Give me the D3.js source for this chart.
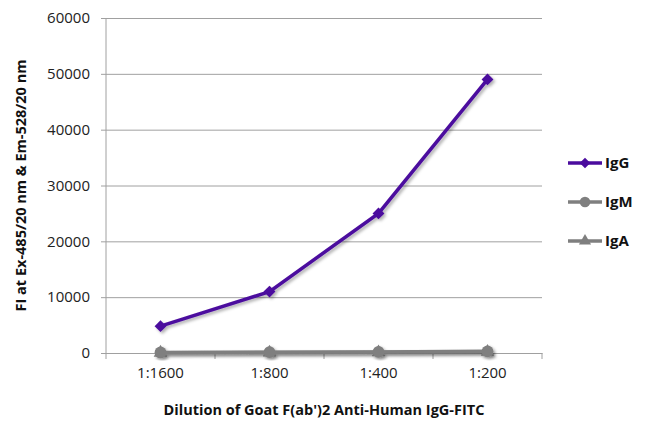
<!DOCTYPE html>
<html>
<head>
<meta charset="utf-8">
<script src="https://cdn.jsdelivr.net/npm/d3@7"></script>
<style>
  html, body { margin: 0; padding: 0; background: #fff; overflow: hidden; }
  svg { display: block; }
  svg text { font-family: 'Open Sans', sans-serif; }
  .tick text { font-size: 15px; fill: #222; }
  .axis-title { font-size: 14.5px; font-weight: bold; fill: #111; }
  .legend text { font-size: 15px; font-weight: bold; fill: #111; }
</style>
</head>
<body>
<svg width="650" height="432"></svg>
<script>
const dilutions = ['1:1600', '1:800', '1:400', '1:200'];
const igG = [4800, 11000, 25000, 49000];
const igM = [100, 150, 200, 300];
const igA = [50, 80, 120, 200];
const yTicks = [0, 10000, 20000, 30000, 40000, 50000, 60000];

const series = [
    { name: 'IgG', values: igG, color: '#4b0c9e', shape: d3.symbolSquare, size: 70, rot: 45 },
    { name: 'IgM', values: igM, color: '#7f7f7f', shape: d3.symbolCircle, size: 110, rot: 0 },
    { name: 'IgA', values: igA, color: '#7f7f7f', shape: d3.symbolTriangle, size: 80, rot: 0 }
];

const svg = d3.select('svg');
const margin = { top: 18, right: 108, bottom: 79, left: 106 };
const width = +svg.attr('width');
const height = +svg.attr('height');
const innerWidth = width - margin.left - margin.right;
const innerHeight = height - margin.top - margin.bottom;

const defs = svg.append('defs');
const shadow = defs.append('filter').attr('id', 'shadow')
    .attr('x', '-20%').attr('y', '-20%').attr('width', '140%').attr('height', '140%');
shadow.append('feDropShadow')
    .attr('dx', 2).attr('dy', 2).attr('stdDeviation', 1.5)
    .attr('flood-color', '#000').attr('flood-opacity', 0.3);

const g = svg.append('g')
    .attr('transform', `translate(${margin.left},${margin.top})`);

const xScale = d3.scaleBand()
    .domain(dilutions)
    .range([0, innerWidth]);

const yScale = d3.scaleLinear()
    .domain([0, 60000])
    .range([innerHeight, 0]);

// gridlines + y axis
const yAxis = d3.axisLeft(yScale)
    .tickValues(yTicks)
    .tickFormat(d3.format('d'))
    .tickSize(-innerWidth)
    .tickPadding(16);
const yAxisG = g.append('g').call(yAxis);
yAxisG.select('.domain').remove();
yAxisG.selectAll('.tick line').attr('stroke', '#a0a0a0').attr('x1', -5);

g.append('line')
    .attr('x1', 0).attr('x2', 0)
    .attr('y1', 0).attr('y2', innerHeight)
    .attr('stroke', '#a0a0a0');

// x axis with tick marks at category boundaries
const xAxisG = g.append('g')
    .attr('transform', `translate(0,${innerHeight})`)
    .call(d3.axisBottom(xScale).tickSize(0).tickPadding(14));
xAxisG.select('.domain').attr('stroke', '#a0a0a0');
xAxisG.selectAll('.boundary')
    .data(d3.range(dilutions.length + 1))
    .enter().append('line')
    .attr('x1', i => i * xScale.bandwidth())
    .attr('x2', i => i * xScale.bandwidth())
    .attr('y1', 0).attr('y2', 6)
    .attr('stroke', '#a0a0a0');

const xPos = d => xScale(d) + xScale.bandwidth() / 2;

const line = d3.line()
    .x((v, i) => xPos(dilutions[i]))
    .y(v => yScale(v));

// draw IgA, IgM first, then IgG on top
series.slice().reverse().forEach(s => {
    const sg = g.append('g').attr('filter', 'url(#shadow)');
    sg.append('path')
        .datum(s.values)
        .attr('fill', 'none')
        .attr('stroke', s.color)
        .attr('stroke-width', 3.5)
        .attr('d', line);
    sg.selectAll('path.marker')
        .data(s.values)
        .enter().append('path')
        .attr('class', 'marker')
        .attr('d', d3.symbol().type(s.shape).size(s.size))
        .attr('fill', s.color)
        .attr('transform', (v, i) => `translate(${xPos(dilutions[i])},${yScale(v)}) rotate(${s.rot})`);
});

// axis titles
g.append('text')
    .attr('class', 'axis-title')
    .attr('text-anchor', 'middle')
    .attr('x', innerWidth / 2)
    .attr('y', innerHeight + 62)
    .text("Dilution of Goat F(ab')2 Anti-Human IgG-FITC");

g.append('text')
    .attr('class', 'axis-title')
    .attr('text-anchor', 'middle')
    .attr('transform', `translate(${-80},${innerHeight / 2}) rotate(-90)`)
    .text('FI at Ex-485/20 nm & Em-528/20 nm');

// legend
const legend = svg.append('g').attr('class', 'legend')
    .attr('transform', 'translate(568,163)');
const item = legend.selectAll('g')
    .data(series)
    .enter().append('g')
    .attr('transform', (d, i) => `translate(0,${i * 39})`);
item.append('line')
    .attr('x1', 0).attr('x2', 34)
    .attr('stroke', d => d.color)
    .attr('stroke-width', 3.5);
item.append('path')
    .attr('d', d => d3.symbol().type(d.shape).size(d.size * 0.8)())
    .attr('fill', d => d.color)
    .attr('transform', d => `translate(17,0) rotate(${d.rot})`);
item.append('text')
    .attr('x', 37)
    .attr('dy', '0.35em')
    .text(d => d.name);
</script>
</body>
</html>
